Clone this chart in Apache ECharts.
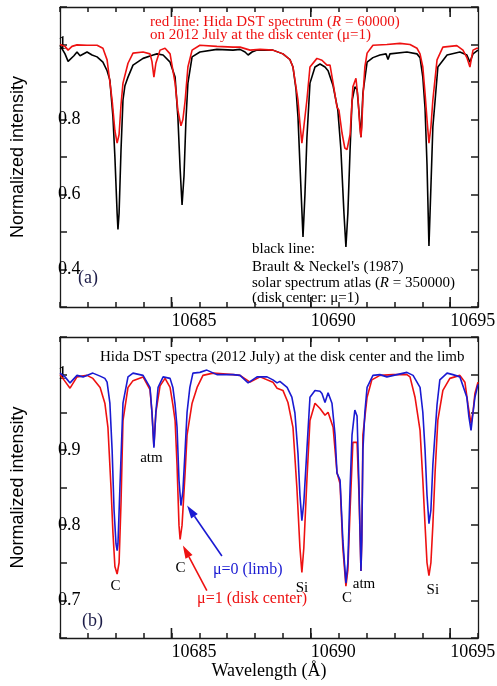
<!DOCTYPE html>
<html><head><meta charset="utf-8">
<script src="https://cdn.jsdelivr.net/npm/echarts@6/dist/echarts.min.js"></script>
<style>html,body{margin:0;padding:0;background:#fff}#c{width:497px;height:686px}</style>
</head><body><div id="c"></div>
<script>
// ---- axis ranges / labels ----
const X_MIN = 10681, X_MAX = 10696, X_STEP = 1;
const xLabelValues = [10685, 10690, 10695];
const topYRange = [0.3, 1.1], topYStep = 0.1;
const topYLabelValues = [0.4, 0.6, 0.8, 1];
const botYRange = [0.65, 1.05], botYStep = 0.05;
const botYLabelValues = [0.7, 0.8, 0.9, 1];

// ---- (a) red: Hida DST, disk centre ----
const topRedWl = [10681.00,10681.18,10681.29,10681.43,10681.61,10681.97,10682.33,10682.54,10682.69,10682.79,10682.87,10682.97,10683.05,10683.12,10683.19,10683.26,10683.44,10683.62,10683.98,10684.23,10684.30,10684.37,10684.44,10684.59,10684.77,10684.95,10685.13,10685.23,10685.34,10685.41,10685.49,10685.59,10685.74,10686.02,10686.63,10687.21,10687.46,10687.82,10688.18,10688.64,10689.00,10689.25,10689.36,10689.54,10689.61,10689.68,10689.75,10689.86,10689.97,10690.22,10690.40,10690.58,10690.69,10690.80,10690.94,10691.01,10691.12,10691.22,10691.30,10691.41,10691.51,10691.62,10691.69,10691.76,10691.80,10691.83,10691.87,10691.94,10692.02,10692.23,10692.73,10693.20,10693.56,10693.81,10693.92,10694.02,10694.10,10694.17,10694.24,10694.31,10694.38,10694.53,10694.74,10695.24,10695.46,10695.60,10695.71,10695.82,10695.96,10696.00];
const topRedI = [1.000,0.995,0.985,0.995,0.999,0.998,0.998,0.990,0.959,0.900,0.852,0.770,0.737,0.760,0.840,0.897,0.950,0.977,0.980,0.975,0.955,0.913,0.950,0.985,0.990,0.975,0.897,0.825,0.783,0.800,0.850,0.940,0.985,0.998,0.995,0.993,0.993,0.985,0.987,0.985,0.975,0.960,0.940,0.852,0.790,0.737,0.780,0.852,0.940,0.963,0.958,0.945,0.945,0.897,0.833,0.825,0.764,0.724,0.720,0.760,0.887,0.910,0.860,0.780,0.753,0.780,0.860,0.940,0.977,0.998,1.000,1.003,1.000,0.990,0.975,0.940,0.870,0.800,0.737,0.780,0.852,0.959,0.993,0.997,0.985,0.965,0.940,0.985,0.990,0.990];

// ---- (a) black: Brault & Neckel atlas ----
const topBlackWl = [10681.00,10681.18,10681.29,10681.36,10681.50,10681.61,10681.72,10681.79,10681.97,10682.15,10682.33,10682.54,10682.69,10682.79,10682.90,10682.97,10683.05,10683.08,10683.12,10683.19,10683.26,10683.33,10683.44,10683.62,10683.98,10684.34,10684.48,10684.70,10684.95,10685.13,10685.23,10685.31,10685.38,10685.45,10685.52,10685.59,10685.74,10686.02,10686.63,10687.21,10687.46,10687.64,10687.75,10687.89,10688.07,10688.64,10689.00,10689.25,10689.36,10689.47,10689.54,10689.61,10689.72,10689.79,10689.86,10689.97,10690.15,10690.33,10690.51,10690.62,10690.80,10690.97,10691.08,10691.19,10691.26,10691.33,10691.41,10691.48,10691.58,10691.66,10691.73,10691.80,10691.87,10692.02,10692.23,10692.48,10692.70,10692.77,10692.84,10693.45,10693.81,10693.92,10694.02,10694.10,10694.17,10694.24,10694.31,10694.38,10694.46,10694.56,10694.89,10695.35,10695.60,10695.71,10695.82,10696.00];
const topBlackI = [0.998,0.975,0.955,0.953,0.970,0.980,0.970,0.975,0.980,0.972,0.967,0.953,0.930,0.905,0.807,0.700,0.550,0.507,0.550,0.720,0.852,0.890,0.913,0.945,0.963,0.972,0.975,0.972,0.953,0.913,0.807,0.670,0.572,0.650,0.800,0.897,0.967,0.980,0.987,0.985,0.987,0.980,0.972,0.980,0.985,0.985,0.975,0.960,0.940,0.880,0.807,0.680,0.487,0.600,0.750,0.897,0.940,0.948,0.940,0.930,0.890,0.825,0.720,0.550,0.460,0.550,0.720,0.850,0.887,0.880,0.820,0.753,0.870,0.953,0.965,0.972,0.975,0.960,0.975,0.980,0.975,0.965,0.913,0.830,0.680,0.463,0.620,0.780,0.850,0.940,0.972,0.980,0.972,0.953,0.975,0.985];

// ---- (b) red: disk centre (mu=1) ----
const botRedWl = [10681.00,10681.18,10681.36,10681.61,10681.97,10682.18,10682.44,10682.61,10682.72,10682.83,10682.90,10682.97,10683.05,10683.12,10683.19,10683.26,10683.44,10683.62,10683.98,10684.23,10684.30,10684.37,10684.44,10684.59,10684.77,10684.95,10685.05,10685.13,10685.20,10685.27,10685.31,10685.38,10685.49,10685.56,10685.74,10685.92,10686.13,10686.49,10687.21,10687.46,10687.82,10688.18,10688.64,10688.79,10689.00,10689.18,10689.36,10689.50,10689.61,10689.68,10689.75,10689.86,10689.97,10690.15,10690.33,10690.51,10690.62,10690.80,10690.94,10691.05,10691.15,10691.26,10691.33,10691.41,10691.51,10691.66,10691.73,10691.80,10691.83,10691.87,10692.02,10692.19,10692.48,10692.95,10693.45,10693.56,10693.74,10693.92,10694.02,10694.10,10694.17,10694.24,10694.31,10694.38,10694.46,10694.56,10694.74,10694.99,10695.35,10695.53,10695.64,10695.75,10695.82,10695.89,10696.00];
const botRedI = [1.000,0.991,0.982,0.997,0.999,0.995,0.983,0.962,0.930,0.850,0.790,0.745,0.735,0.750,0.830,0.939,0.983,0.992,0.997,0.980,0.950,0.905,0.950,0.985,0.995,0.983,0.960,0.939,0.880,0.800,0.781,0.800,0.870,0.920,0.962,0.983,0.999,1.002,1.000,0.999,0.990,0.997,0.990,0.982,0.979,0.963,0.930,0.850,0.770,0.737,0.770,0.860,0.939,0.962,0.955,0.946,0.950,0.930,0.870,0.855,0.770,0.719,0.740,0.820,0.910,0.910,0.840,0.739,0.780,0.920,0.970,0.993,0.999,1.000,1.000,0.997,0.970,0.926,0.860,0.800,0.750,0.733,0.750,0.800,0.870,0.940,0.979,0.995,0.999,0.990,0.960,0.935,0.950,0.975,0.990];

// ---- (b) blue: limb (mu=0) ----
const botBlueWl = [10681.00,10681.18,10681.36,10681.61,10681.83,10682.18,10682.44,10682.61,10682.69,10682.79,10682.87,10682.94,10683.01,10683.05,10683.08,10683.15,10683.26,10683.44,10683.62,10683.98,10684.23,10684.30,10684.37,10684.44,10684.52,10684.70,10684.95,10685.05,10685.13,10685.20,10685.27,10685.34,10685.41,10685.49,10685.56,10685.66,10685.77,10686.02,10686.27,10686.63,10687.21,10687.46,10687.75,10688.07,10688.43,10688.64,10688.79,10688.89,10689.15,10689.32,10689.43,10689.54,10689.61,10689.68,10689.75,10689.86,10689.97,10690.15,10690.33,10690.40,10690.51,10690.62,10690.76,10690.87,10690.94,10691.05,10691.15,10691.26,10691.33,10691.41,10691.48,10691.58,10691.66,10691.73,10691.80,10691.83,10691.87,10691.94,10692.02,10692.23,10692.48,10692.73,10693.09,10693.45,10693.67,10693.92,10694.02,10694.10,10694.17,10694.24,10694.31,10694.38,10694.53,10694.63,10694.89,10695.10,10695.35,10695.60,10695.67,10695.75,10695.82,10695.89,10696.00];
const botBlueI = [1.002,0.997,0.989,0.999,0.997,1.002,0.998,0.995,0.990,0.962,0.900,0.820,0.775,0.766,0.775,0.850,0.962,0.997,1.002,0.999,0.983,0.950,0.903,0.950,0.983,0.997,0.995,0.983,0.960,0.930,0.860,0.826,0.845,0.900,0.950,0.983,1.002,1.003,1.006,1.000,1.000,0.999,0.989,0.997,0.997,0.993,0.989,0.991,0.983,0.970,0.949,0.895,0.840,0.806,0.830,0.900,0.970,0.979,0.978,0.975,0.963,0.976,0.962,0.920,0.869,0.860,0.780,0.723,0.750,0.850,0.920,0.953,0.945,0.850,0.739,0.780,0.900,0.950,0.983,0.999,1.000,0.997,1.000,1.003,0.999,0.983,0.950,0.900,0.840,0.802,0.820,0.880,0.960,0.993,1.002,1.000,0.997,0.970,0.945,0.926,0.949,0.970,0.987];

// ---- annotation anchors (data coordinates of panel b) ----
const lineLabels = [
  ['atm', 10684.28, 0.889], ['C', 10682.99, 0.719], ['C', 10685.32, 0.743],
  ['Si', 10689.68, 0.717], ['C', 10691.30, 0.703], ['atm', 10691.91, 0.722], ['Si', 10694.38, 0.714]
];
const blueArrow = [[10686.81, 0.759], [10685.56, 0.826]];
const redArrow = [[10686.27, 0.713], [10685.41, 0.773]];

const zip = (a, b) => a.map((v, i) => [v, b[i]]);
const SERIF = '"Liberation Serif","Times New Roman",serif';
const SANS = '"Liberation Sans",Arial,sans-serif';
const RED = '#ee1111', BLUE = '#1a1ad2', BLACK = '#000', FRAME = '#1a1a1a';
const near = (v, list) => list.some(t => Math.abs(v - t) < 1e-6);

function xAxesFor(g, name) {
  const common = { type: 'value', gridIndex: g, min: X_MIN, max: X_MAX, interval: X_STEP, splitLine: { show: false } };
  const line = { show: true, onZero: false, lineStyle: { color: FRAME, width: 1.3 } };
  const tick = { show: true, inside: true, length: 5, lineStyle: { color: FRAME, width: 1.5 } };
  return [
    Object.assign({}, common, {
      position: 'bottom', axisLine: line, axisTick: tick,
      axisLabel: { show: true, align: 'left', margin: 5, fontFamily: SERIF, fontSize: 18, color: '#000',
        showMinLabel: true, showMaxLabel: true, hideOverlap: false,
        formatter: v => (near(v, xLabelValues) ? String(Math.round(v)) : '') },
      name: name || '', nameLocation: 'middle', nameGap: 24,
      nameTextStyle: { fontFamily: SERIF, fontSize: 18, color: '#000' }
    }),
    Object.assign({}, common, {
      position: 'top', axisLine: line, axisTick: tick,
      axisLabel: { show: false }
    })
  ];
}
function yAxesFor(g, range, step, labels) {
  const common = { type: 'value', gridIndex: g, min: range[0], max: range[1], interval: step, splitLine: { show: false } };
  const line = { show: true, onZero: false, lineStyle: { color: FRAME, width: 1.3 } };
  const tick = { show: true, inside: true, length: 7, lineStyle: { color: FRAME, width: 1.5 } };
  return [
    Object.assign({}, common, {
      position: 'left', axisLine: line, axisTick: tick,
      axisLabel: { show: true, inside: true, margin: -2, fontFamily: SERIF, fontSize: 18, color: '#000',
        showMinLabel: true, showMaxLabel: true,
        formatter: v => (near(v, labels) ? (Math.abs(v - 1) < 1e-6 ? '1' : v.toFixed(1)) : '') },
      name: 'Normalized intensity', nameLocation: 'middle', nameGap: 33,
      nameTextStyle: { fontFamily: SANS, fontSize: 18, color: '#000' }
    }),
    Object.assign({}, common, {
      position: 'right', axisLine: line, axisTick: tick,
      axisLabel: { show: false }
    })
  ];
}

const chart = echarts.init(document.getElementById('c'), null, { renderer: 'canvas' });
const lineSeries = (xi, yi, wl, val, color, z) => ({
  type: 'line', xAxisIndex: xi, yAxisIndex: yi, data: zip(wl, val), showSymbol: false, symbol: 'none',
  lineStyle: { color: color, width: 1.6 }, itemStyle: { color: color }, z: z, silent: true, animation: false
});
chart.setOption({
  animation: false,
  backgroundColor: '#fff',
  grid: [
    { left: 60, top: 7, width: 418, height: 300, outerBoundsMode: 'none' },
    { left: 60, top: 337, width: 418, height: 301, outerBoundsMode: 'none' }
  ],
  xAxis: xAxesFor(0, '').concat(xAxesFor(1, 'Wavelength (Å)')),
  yAxis: yAxesFor(0, topYRange, topYStep, topYLabelValues).concat(yAxesFor(1, botYRange, botYStep, botYLabelValues)),
  series: [
    lineSeries(0, 0, topBlackWl, topBlackI, BLACK, 2),
    lineSeries(0, 0, topRedWl, topRedI, RED, 3),
    lineSeries(2, 2, botRedWl, botRedI, RED, 2),
    lineSeries(2, 2, botBlueWl, botBlueI, BLUE, 3)
  ]
});

// ---- annotations ----
const g = [];
// longer major ticks at the labelled wavelengths (top and bottom edges of both panels)
[[0, topYRange], [1, botYRange]].forEach(([gi, yr]) => {
  xLabelValues.forEach(v => {
    const b = chart.convertToPixel({ gridIndex: gi }, [v, yr[0]]);
    const t = chart.convertToPixel({ gridIndex: gi }, [v, yr[1]]);
    const x = b[0];
    g.push({ type: 'line', silent: true, z: 9, shape: { x1: x, y1: b[1], x2: x, y2: b[1] - 10 }, style: { stroke: FRAME, lineWidth: 1.6 } });
    g.push({ type: 'line', silent: true, z: 9, shape: { x1: x, y1: t[1], x2: x, y2: t[1] + 10 }, style: { stroke: FRAME, lineWidth: 1.6 } });
  });
});
const px = p => chart.convertToPixel({ gridIndex: 1 }, p);
const txt = (text, x, y, size, color, align, family) => ({
  type: 'text', x: x, y: y, z: 10, silent: true,
  style: { text: text, fontSize: size, fontFamily: family || SERIF, fill: color, align: align || 'left', verticalAlign: 'middle' }
});
const richTxt = (text, x, y, size, color) => ({
  type: 'text', x: x, y: y, z: 10, silent: true,
  style: { text: text, fontSize: size, fontFamily: SERIF, fill: color, align: 'left', verticalAlign: 'middle',
    rich: { i: { fontStyle: 'italic', fontSize: size, fontFamily: SERIF, fill: color } } }
});
function arrow(seg, color) {
  const a = px(seg[0]), b = px(seg[1]);
  const dx = b[0] - a[0], dy = b[1] - a[1], L = Math.hypot(dx, dy);
  const ux = dx / L, uy = dy / L, hl = 13, hw = 4;
  const bx = b[0] - ux * hl, by = b[1] - uy * hl;
  return [
    { type: 'line', z: 10, silent: true, shape: { x1: a[0], y1: a[1], x2: bx, y2: by }, style: { stroke: color, lineWidth: 1.6 } },
    { type: 'polygon', z: 10, silent: true, shape: { points: [[b[0], b[1]], [bx - uy * hw, by + ux * hw], [bx + uy * hw, by - ux * hw]] }, style: { fill: color } }
  ];
}
g.push(richTxt('red line: Hida DST spectrum ({i|R} = 60000)', 150, 22, 15, RED));
g.push(txt('on 2012 July at the disk center (μ=1)', 150, 35, 15, RED));
g.push(txt('black line:', 252, 249, 15, BLACK));
g.push(txt('Brault & Neckel\'s (1987)', 252, 267, 15, BLACK));
g.push(richTxt('solar spectrum atlas ({i|R} = 350000)', 252, 283, 15, BLACK));
g.push(txt('(disk center: μ=1)', 252, 298, 15, BLACK));
g.push(txt('(a)', 78, 278, 18, '#1c1c48'));
g.push(txt('Hida DST spectra (2012 July) at the disk center and the limb', 100, 357, 15, BLACK));
g.push(txt('(b)', 82, 621, 18, '#1c1c48'));
lineLabels.forEach(l => { const p = px([l[1], l[2]]); g.push(txt(l[0], p[0], p[1], 15, BLACK, 'center')); });
let p = px([10686.49, 0.741]); g.push(txt('μ=0 (limb)', p[0], p[1], 16, BLUE));
p = px([10685.92, 0.702]); g.push(txt('μ=1 (disk center)', p[0], p[1], 16, RED));
arrow(blueArrow, BLUE).forEach(e => g.push(e));
arrow(redArrow, RED).forEach(e => g.push(e));
chart.setOption({ graphic: g });
</script>
</body></html>
